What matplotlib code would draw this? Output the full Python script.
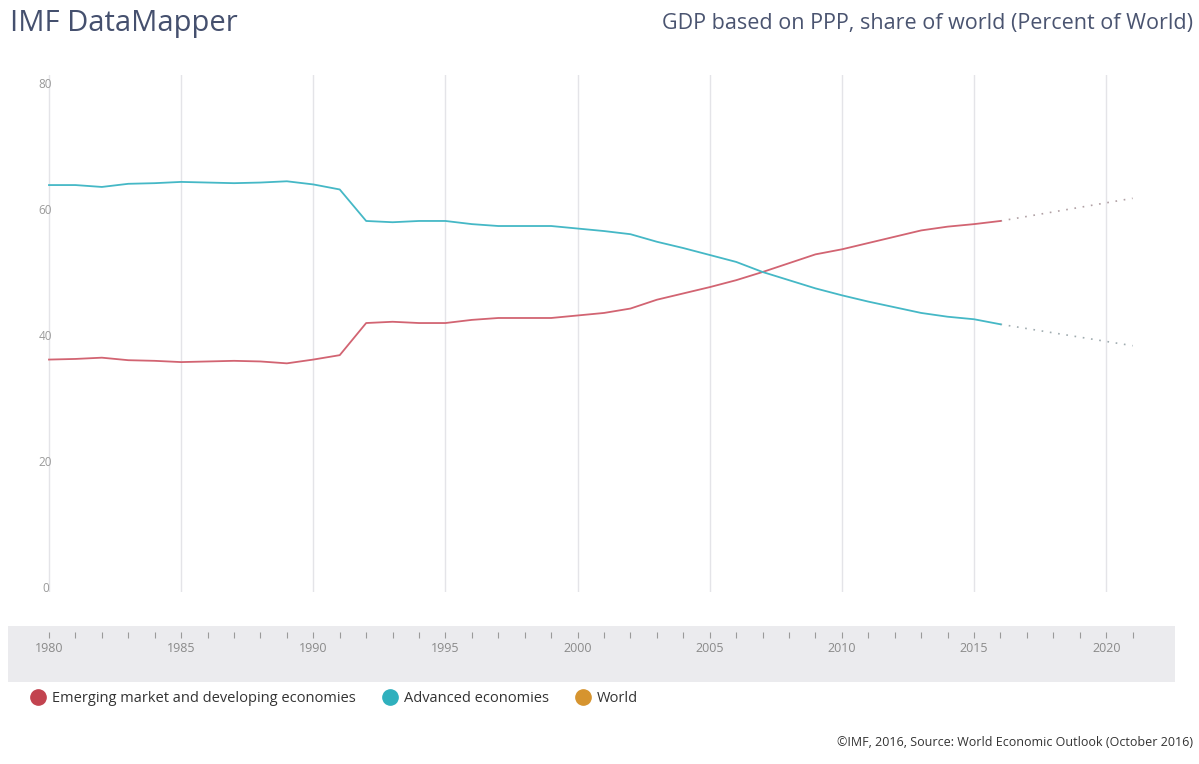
import matplotlib
matplotlib.use("Agg")
import matplotlib.pyplot as plt
from matplotlib.lines import Line2D

plt.rcParams['font.family'] = ['Open Sans', 'DejaVu Sans']

# data (percent of world GDP, PPP)
years = list(range(1980, 2017))
emerging = [36.1, 36.2, 36.4, 36.0, 35.9, 35.7, 35.8, 35.9, 35.8, 35.5, 36.1, 36.8,
            41.9, 42.1, 41.9, 41.9, 42.4, 42.7, 42.7, 42.7, 43.1, 43.5, 44.2, 45.6,
            46.6, 47.6, 48.7, 50.0, 51.4, 52.8, 53.6, 54.6, 55.6, 56.6, 57.2, 57.6, 58.1]
advanced = [63.8, 63.8, 63.5, 64.0, 64.1, 64.3, 64.2, 64.1, 64.2, 64.4, 63.9, 63.1,
            58.1, 57.9, 58.1, 58.1, 57.6, 57.3, 57.3, 57.3, 56.9, 56.5, 56.0, 54.8,
            53.8, 52.7, 51.6, 50.0, 48.7, 47.4, 46.3, 45.3, 44.4, 43.5, 42.9, 42.5, 41.7]
proj_years = [2016, 2021]
emerging_proj = [58.1, 61.7]
advanced_proj = [41.7, 38.3]

series_names = ['Emerging market and developing economies', 'Advanced economies', 'World']
legend_colors = ['#c2434f', '#2fb0bd', '#d6942f']
line_colors = ['#d26472', '#45b8c6']
yticks = [0, 20, 40, 60, 80]
label_years = list(range(1980, 2021, 5))
tick_years = list(range(1980, 2022))

W, H = 1199, 764
fig = plt.figure(figsize=(W / 100, H / 100), dpi=100)
fig.patch.set_facecolor('white')

px_per_year = 26.43
x0_px = 49
xmin = 1980 - (x0_px - 8) / px_per_year
xmax = 1980 + (1175 - x0_px) / px_per_year

# main plot area
ax = fig.add_axes([8 / W, 1 - 592 / H, (1175 - 8) / W, (592 - 75) / H])
ax.set_xlim(xmin, xmax)
ax.set_ylim((587 - 592) / 6.3, (587 - 75) / 6.3)
for s in ax.spines.values():
    s.set_visible(False)
for gx in label_years:
    ax.axvline(gx, color='#e4e4e8', lw=1, zorder=0)
ax.set_xticks([])
ax.set_yticks(yticks)
ax.set_yticklabels([str(v) for v in yticks], fontsize=8.5, color='#9a9a9a')
ax.tick_params(axis='y', length=0, pad=-27)
for lab in ax.get_yticklabels():
    lab.set_horizontalalignment('center')

ax.plot(years, emerging, color=line_colors[0], lw=1.3, zorder=3)
ax.plot(years, advanced, color=line_colors[1], lw=1.3, zorder=3)
ax.plot(proj_years, emerging_proj, color='#b0a0a4', lw=1.2, ls=(0, (1, 4)), zorder=2)
ax.plot(proj_years, advanced_proj, color='#a0acb0', lw=1.2, ls=(0, (1, 4)), zorder=2)

# grey time band
band = fig.add_axes([8 / W, 1 - 682 / H, (1175 - 8) / W, (682 - 626) / H])
band.set_facecolor('#ebebee')
band.set_xlim(xmin, xmax)
band.set_ylim(0, 1)
for s in band.spines.values():
    s.set_visible(False)
band.set_yticks([])
band.set_xticks([])
band.vlines(tick_years, 0.78, 0.89, color='#9a9a9a', lw=0.8)
for yr in label_years:
    band.text(yr, 0.6, str(yr), fontsize=9, color='#8a8a8a', ha='center', va='center')

# titles
fig.text(10 / W, 1 - 23 / H, 'IMF DataMapper', fontsize=21, color='#45506e',
         ha='left', va='center')
fig.text(1193 / W, 1 - 23 / H, 'GDP based on PPP, share of world (Percent of World)',
         fontsize=15.5, color='#4a5470', ha='right', va='center')

# legend
handles = [Line2D([], [], marker='o', ls='none', markersize=11, markerfacecolor=c,
                  markeredgecolor=c) for c in legend_colors]
fig.legend(handles, series_names, loc='center left', bbox_to_anchor=(16 / W, 1 - 699 / H),
           ncol=3, frameon=False, fontsize=10.5, handletextpad=0.35, columnspacing=1.75,
           handlelength=1.2, labelcolor='#333333')

fig.text(1193 / W, 1 - 742 / H, '\u00a9IMF, 2016, Source: World Economic Outlook (October 2016)',
         fontsize=9, color='#333333', ha='right', va='center')

fig.savefig('out.png', dpi=100)
